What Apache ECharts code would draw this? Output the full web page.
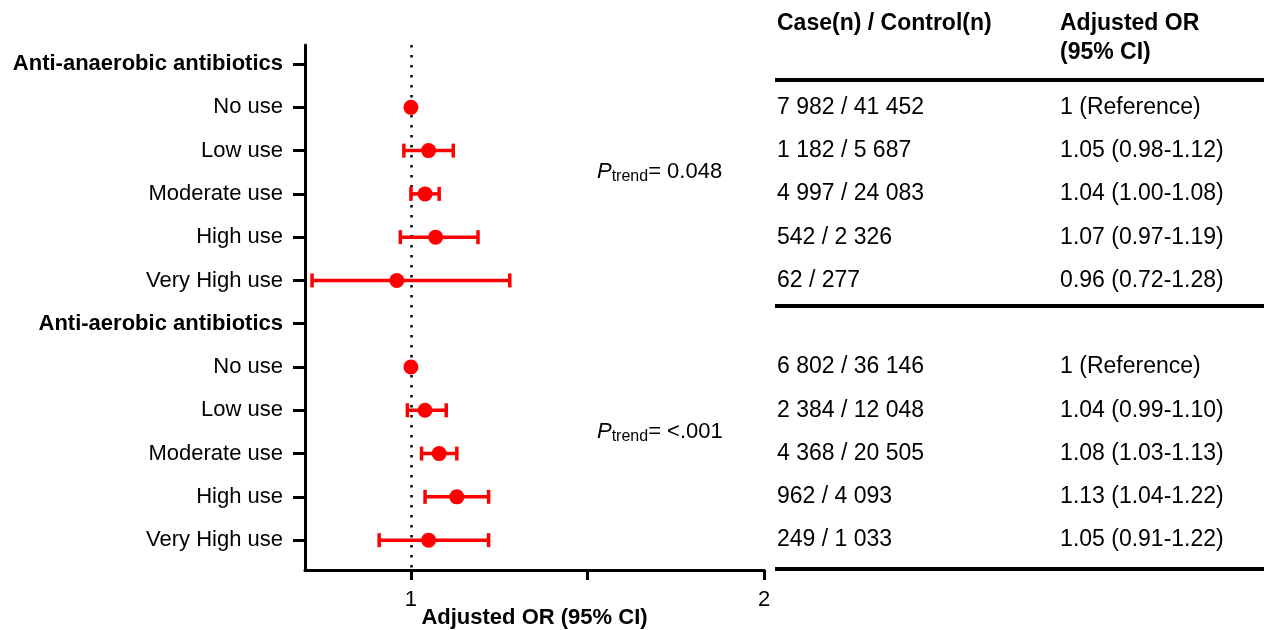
<!DOCTYPE html>
<html>
<head>
<meta charset="utf-8">
<script src="https://cdn.jsdelivr.net/npm/echarts@6/dist/echarts.min.js"></script>
<style>
  html, body { margin: 0; padding: 0; background: #fff; }
  #main { width: 1264px; height: 630px; }
</style>
</head>
<body>
<div id="main"></div>
<script>
// data
const groupNames = ['Anti-anaerobic antibiotics', 'Anti-aerobic antibiotics'];
const useLevels = ['No use', 'Low use', 'Moderate use', 'High use', 'Very High use'];

const anaerobicOR = [1, 1.05, 1.04, 1.07, 0.96];
const anaerobicLow = [null, 0.98, 1.00, 0.97, 0.72];
const anaerobicHigh = [null, 1.12, 1.08, 1.19, 1.28];
const anaerobicCounts = ['7 982 / 41 452', '1 182 / 5 687', '4 997 / 24 083', '542 / 2 326', '62 / 277'];

const aerobicOR = [1, 1.04, 1.08, 1.13, 1.05];
const aerobicLow = [null, 0.99, 1.03, 1.04, 0.91];
const aerobicHigh = [null, 1.10, 1.13, 1.22, 1.22];
const aerobicCounts = ['6 802 / 36 146', '2 384 / 12 048', '4 368 / 20 505', '962 / 4 093', '249 / 1 033'];

const pTrend = ['0.048', '<.001'];
const xTicks = [1, 1.5, 2];
const xLabels = [1, 2];

const FONT = '"Liberation Sans", Arial, sans-serif';

// build rows
const groups = [
  { or: anaerobicOR, lo: anaerobicLow, hi: anaerobicHigh, counts: anaerobicCounts },
  { or: aerobicOR, lo: aerobicLow, hi: aerobicHigh, counts: aerobicCounts }
];
let rowLabels = [];
let headerRows = [];
let points = [];
let bars = [];
let col1 = [];
let col2 = [];
let pRows = [];

groups.forEach(function (g, gi) {
  const start = rowLabels.length;
  rowLabels.push(groupNames[gi]);
  headerRows.push(start);
  useLevels.forEach(function (lv, i) {
    const r = start + 1 + i;
    rowLabels.push(lv);
    points.push([g.or[i], r]);
    let ciText = '1 (Reference)';
    if (g.lo[i] != null) {
      bars.push([g.lo[i], g.hi[i], r]);
      ciText = g.or[i].toFixed(2) + ' (' + g.lo[i].toFixed(2) + '-' + g.hi[i].toFixed(2) + ')';
    }
    col1.push([0.004, r, g.counts[i]]);
    col2.push([0.583, r, ciText]);
  });
  pRows.push([1.527, start + 2.5, pTrend[gi]]);
});
const rowIdx = rowLabels.map((d, i) => i);

const yMin = -0.44, yMax = 11.69;

var dom = document.getElementById('main');
var myChart = echarts.init(dom, null, { renderer: 'canvas' });

var option = {
  animation: false,
  textStyle: { fontFamily: FONT },
  grid: [
    { left: 305, right: 500, top: 45, bottom: 60, outerBoundsMode: 'none' },
    { left: 775, right: 0, top: 45, bottom: 60, outerBoundsMode: 'none' }
  ],
  xAxis: [
    {
      type: 'value', gridIndex: 0, min: 0.7, max: 2,
      name: 'Adjusted OR (95% CI)', nameLocation: 'middle', nameGap: 37, nameMoveOverlap: false,
      nameTextStyle: { fontFamily: FONT, fontWeight: 'bold', fontSize: 22, color: '#000', verticalAlign: 'top' },
      axisLine: { show: true, onZero: false, lineStyle: { color: '#000', width: 3 } },
      axisTick: { show: true, length: 10, lineStyle: { color: '#000', width: 3 }, customValues: xTicks },
      axisLabel: { fontFamily: FONT, fontSize: 22, color: '#000', margin: 19, customValues: xLabels },
      splitLine: { show: false }
    },
    { type: 'value', gridIndex: 1, min: 0, max: 1, show: false }
  ],
  yAxis: [
    {
      type: 'value', gridIndex: 0, min: yMin, max: yMax, inverse: true,
      axisLine: { show: true, onZero: false, lineStyle: { color: '#000', width: 3 } },
      axisTick: { show: true, length: 12, lineStyle: { color: '#000', width: 3 }, customValues: rowIdx },
      axisLabel: {
        fontFamily: FONT, fontSize: 22, color: '#000', margin: 22, customValues: rowIdx,
        formatter: function (v) {
          const i = Math.round(v);
          return headerRows.indexOf(i) >= 0 ? '{b|' + rowLabels[i] + '}' : rowLabels[i];
        },
        rich: { b: { fontFamily: FONT, fontWeight: 'bold', fontSize: 22, color: '#000' } }
      },
      splitLine: { show: false }
    },
    { type: 'value', gridIndex: 1, min: yMin, max: yMax, inverse: true, show: false }
  ],
  graphic: [
    { type: 'text', left: 777, top: 12, style: { text: 'Case(n) / Control(n)', font: 'bold 23px ' + FONT, fill: '#000' } },
    { type: 'text', left: 1060, top: 12, style: { text: 'Adjusted OR', font: 'bold 23px ' + FONT, fill: '#000' } },
    { type: 'text', left: 1060, top: 41, style: { text: '(95% CI)', font: 'bold 23px ' + FONT, fill: '#000' } }
  ],
  series: [
    {
      // error bars
      type: 'custom', xAxisIndex: 0, yAxisIndex: 0, z: 3,
      data: bars,
      encode: { x: [0, 1], y: 2 },
      renderItem: function (params, api) {
        const y = api.value(2);
        const a = api.coord([api.value(0), y]);
        const b = api.coord([api.value(1), y]);
        const h = 7;
        const st = { stroke: '#ff0000', lineWidth: 3.5 };
        return {
          type: 'group',
          children: [
            { type: 'line', shape: { x1: a[0], y1: a[1], x2: b[0], y2: b[1] }, style: st },
            { type: 'line', shape: { x1: a[0], y1: a[1] - h, x2: a[0], y2: a[1] + h }, style: st },
            { type: 'line', shape: { x1: b[0], y1: b[1] - h, x2: b[0], y2: b[1] + h }, style: st }
          ]
        };
      },
      markLine: {
        silent: true, symbol: 'none', z: 1,
        label: { show: false },
        lineStyle: { color: '#000', width: 2.5, type: [2.5, 7.5] },
        data: [{ xAxis: 1 }]
      }
    },
    {
      type: 'scatter', xAxisIndex: 0, yAxisIndex: 0, z: 4,
      symbol: 'circle', symbolSize: 15,
      itemStyle: { color: '#ff0000', opacity: 1 },
      data: points
    },
    {
      // P trend annotations
      type: 'scatter', xAxisIndex: 0, yAxisIndex: 0,
      symbolSize: 0, data: pRows,
      itemStyle: { opacity: 1 },
      label: {
        show: true, position: 'right', distance: 0,
        formatter: function (p) { return '{p|P}{s|trend}{n|= ' + p.value[2] + '}'; },
        rich: {
          p: { fontFamily: FONT, fontStyle: 'italic', fontSize: 22, color: '#000' },
          s: { fontFamily: FONT, fontSize: 16, color: '#000', padding: [9, 0, 0, 0] },
          n: { fontFamily: FONT, fontSize: 22, color: '#000' }
        }
      }
    },
    {
      // table column 1
      type: 'scatter', xAxisIndex: 1, yAxisIndex: 1,
      symbolSize: 0, data: col1,
      itemStyle: { opacity: 1 },
      label: {
        show: true, position: 'right', distance: 0,
        fontFamily: FONT, fontSize: 23, color: '#000',
        formatter: function (p) { return p.value[2]; }
      },
      markLine: {
        silent: true, symbol: 'none',
        label: { show: false },
        lineStyle: { color: '#000', width: 4, type: 'solid', opacity: 1 },
        data: [{ yAxis: 0.37 }, { yAxis: 5.59 }, { yAxis: 11.66 }]
      }
    },
    {
      // table column 2
      type: 'scatter', xAxisIndex: 1, yAxisIndex: 1,
      symbolSize: 0, data: col2,
      itemStyle: { opacity: 1 },
      label: {
        show: true, position: 'right', distance: 0,
        fontFamily: FONT, fontSize: 23, color: '#000',
        formatter: function (p) { return p.value[2]; }
      }
    }
  ]
};

myChart.setOption(option);
window.addEventListener('resize', myChart.resize);
</script>
</body>
</html>
